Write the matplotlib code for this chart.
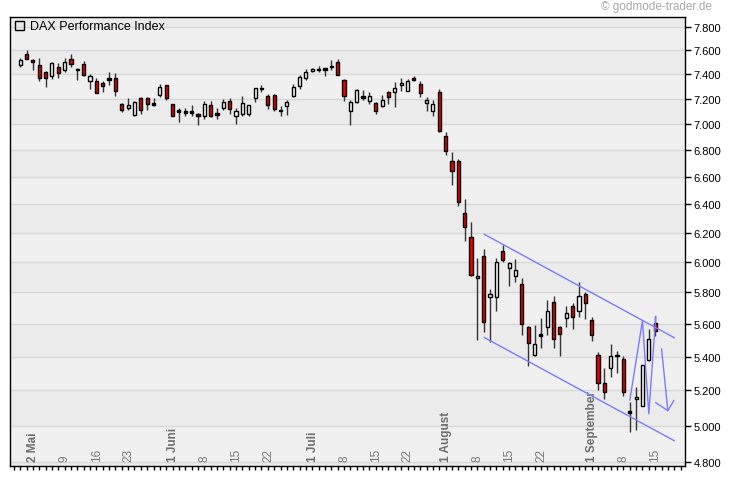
import numpy as np
import matplotlib
matplotlib.use('Agg')
import matplotlib.pyplot as plt
from matplotlib.ticker import FixedLocator, FuncFormatter, NullLocator
import matplotlib.transforms as mtrans

plt.rcParams['font.family'] = ['Liberation Sans', 'DejaVu Sans']

# ---- data: DAX daily candles, 29 Apr 2011 .. 16 Sep 2011 (index = trading day) ----
opens = [7472, 7567, 7517, 7472, 7417, 7386, 7458, 7436, 7522, 7440,
         7480, 7345, 7343, 7327, 7357, 7367, 7154, 7126, 7072, 7204,
         7202, 7157, 7230, 7308, 7154, 7104, 7094, 7098, 7075, 7059,
         7149, 7077, 7123, 7180, 7059, 7077, 7075, 7202, 7279, 7218,
         7226, 7106, 7138, 7223, 7304, 7370, 7422, 7437, 7440, 7464,
         7500, 7353, 7104, 7170, 7212, 7183, 7162, 7141, 7252, 7255,
         7306, 7263, 7367, 7316, 7162, 7104, 7250, 6904, 6714, 6714,
         6336, 6169, 5893, 6039, 5770, 5773, 6075, 5960, 5910, 5855,
         5582, 5412, 5528, 5580, 5738, 5580, 5635, 5712, 5684, 5790,
         5625, 5409, 5246, 5330, 5405, 5388, 5077, 5149, 5111, 5382,
         5604]
highs = [7533, 7600, 7528, 7533, 7422, 7497, 7492, 7533, 7564, 7447,
         7505, 7400, 7367, 7345, 7417, 7406, 7164, 7206, 7178, 7212,
         7210, 7204, 7316, 7308, 7158, 7123, 7127, 7147, 7088, 7180,
         7180, 7123, 7198, 7204, 7123, 7220, 7151, 7287, 7308, 7237,
         7237, 7143, 7188, 7316, 7394, 7439, 7449, 7470, 7453, 7517,
         7522, 7357, 7188, 7273, 7268, 7252, 7170, 7231, 7263, 7330,
         7365, 7362, 7384, 7343, 7214, 7188, 7276, 6937, 6784, 6731,
         6438, 6273, 6028, 6089, 5822, 6026, 6112, 6003, 6021, 5893,
         5590, 5594, 5636, 5749, 5780, 5586, 5712, 5733, 5865, 5801,
         5642, 5425, 5330, 5477, 5436, 5402, 5134, 5222, 5352, 5568,
         5652]
lows = [7456, 7522, 7436, 7345, 7290, 7357, 7370, 7417, 7461, 7350,
        7381, 7280, 7244, 7255, 7310, 7222, 7089, 7111, 7064, 7078,
        7111, 7141, 7214, 7188, 7060, 7017, 7058, 7058, 6990, 7038,
        7051, 7038, 7110, 7077, 7002, 7064, 7064, 7175, 7255, 7120,
        7100, 7064, 7072, 7210, 7280, 7351, 7414, 7414, 7386, 7436,
        7389, 7183, 6993, 7162, 7190, 7157, 7077, 7133, 7157, 7136,
        7263, 7263, 7340, 7210, 7104, 7058, 6940, 6760, 6537, 6390,
        6144, 5910, 5498, 5550, 5488, 5679, 5999, 5844, 5866, 5533,
        5343, 5406, 5452, 5530, 5451, 5402, 5580, 5571, 5643, 5631,
        5493, 5205, 5150, 5280, 5300, 5168, 4964, 4976, 5108, 5372,
        5524]
closes = [7517, 7522, 7497, 7370, 7370, 7489, 7406, 7497, 7486, 7433,
          7392, 7381, 7247, 7298, 7355, 7263, 7111, 7147, 7172, 7111,
          7159, 7160, 7292, 7206, 7064, 7101, 7087, 7090, 7059, 7154,
          7064, 7073, 7170, 7114, 7104, 7162, 7146, 7282, 7281, 7146,
          7114, 7103, 7170, 7290, 7373, 7414, 7441, 7439, 7437, 7462,
          7394, 7223, 7170, 7268, 7208, 7218, 7104, 7186, 7215, 7284,
          7327, 7340, 7348, 7247, 7186, 7157, 6947, 6793, 6640, 6414,
          6238, 5917, 5910, 5610, 5793, 5999, 6016, 5994, 5948, 5602,
          5483, 5477, 5532, 5680, 5507, 5535, 5667, 5642, 5779, 5733,
          5534, 5246, 5193, 5405, 5410, 5190, 5073, 5164, 5348, 5506,
          5554]

# x-axis labels (trading-day index, text)
month_idx = [1, 23, 45, 66, 89]
month_labels = ['2 Mai', '1 Juni', '1 Juli', '1 August', '1 September']
day_idx = [6, 11, 16, 28, 33, 38, 50, 55, 60, 71, 76, 81, 94, 99]
day_labels = ['9', '16', '23', '8', '15', '22', '8', '15', '22', '8', '15', '22', '8', '15']

y_ticks = [4800, 5000, 5200, 5400, 5600, 5800, 6000, 6200, 6400, 6600, 6800,
           7000, 7200, 7400, 7600, 7800]

# drawn trend channel and projection lines (index, price)
upper_x = [73.0, 103.1]
upper_y = [6191, 5513]
lower_x = [73.0, 103.1]
lower_y = [5518, 4915]
zig_x = [96.0, 98.0, 99.0, 100.1]
zig_y = [5141, 5621, 5066, 5652]
arrow_x = [101.0, 102.0]
arrow_y = [5450, 5084]
head_x = [100.0, 102.0, 103.0]
head_y = [5132, 5084, 5145]

# ---- figure ----
W, H = 730, 481
fig = plt.figure(figsize=(W / 100, H / 100), dpi=100)
fig.patch.set_facecolor('white')
L, R, T, B = 10, 685, 18, 467
ax = fig.add_axes([L / W, (H - B) / H, (R - L) / W, (B - T) / H])
ax.set_facecolor('#EEEEEE')

ax.set_yscale('log')
ax.set_ylim(4780, 7885)
ax.set_xlim(-1.6, 104.7)

# alternating background bands + grid
bands = [4700] + y_ticks + [8000]
for i in range(len(bands) - 1):
    ax.axhspan(bands[i], bands[i + 1], color='#F0F0F0' if i % 2 else '#EBEBEB', lw=0, zorder=0)
for v in y_ticks:
    ax.axhline(v, color='#D8D8D8', lw=1, zorder=0.5)

# candles
n = len(opens)
xs = np.arange(n)
ax.vlines(xs, lows, highs, color='#333333', lw=1, zorder=2)
for i in range(n):
    o, c = opens[i], closes[i]
    bottom = min(o, c)
    h = abs(c - o)
    if h < 0.0012 * o:
        h = 0.0018 * o
        bottom = (o + c) / 2 - h / 2
        fc = 'black'
    else:
        fc = '#EE0000' if c < o else 'white'
    ax.bar(i, h, bottom=bottom, width=0.5, color=fc, edgecolor='black', lw=1, zorder=3)

# blue annotation lines
blue = '#7B7BFF'
for lx, ly in [(upper_x, upper_y), (lower_x, lower_y), (zig_x, zig_y), (arrow_x, arrow_y), (head_x, head_y)]:
    ax.plot(lx, ly, color=blue, lw=1, zorder=4, solid_capstyle='butt')

# axes styling
for s in ax.spines.values():
    s.set_color('black')
    s.set_linewidth(1)
ax.yaxis.tick_right()
ax.yaxis.set_major_locator(FixedLocator(y_ticks))
ax.yaxis.set_minor_locator(NullLocator())
ax.yaxis.set_major_formatter(FuncFormatter(lambda v, p: f'{int(round(v)):,}'.replace(',', '.')))
ax.tick_params(axis='y', which='major', direction='out', length=4, width=1, pad=2,
               labelsize=8, labelcolor='black')
ax.xaxis.set_major_locator(FixedLocator(np.arange(-1, 105)))
ax.xaxis.set_minor_locator(NullLocator())
ax.tick_params(axis='x', which='major', direction='out', length=3, width=1, labelbottom=False)

# x labels inside the plot
tr = mtrans.blended_transform_factory(ax.transData, ax.transAxes)
off = mtrans.offset_copy(tr, fig=fig, x=0.5, y=0, units='points')
for i, t in zip(month_idx, month_labels):
    ax.text(i, 0.012, t, rotation=90, ha='left', va='bottom', fontsize=8.5, fontweight='bold',
            color='#6E6E6E', transform=off, zorder=1)
for i, t in zip(day_idx, day_labels):
    ax.text(i, 0.012, t, rotation=90, ha='left', va='bottom', fontsize=8.5,
            color='#777777', transform=off, zorder=1)

# legend
fig.patches.append(plt.Rectangle((15 / W, 1 - 31 / H), 9 / W, 9 / H, transform=fig.transFigure,
                                 fill=False, edgecolor='black', lw=1))
fig.text(30 / W, 1 - 27 / H, 'DAX Performance Index', fontsize=9, va='center', ha='left', color='black')

# watermark
fig.text(712 / W, 1 - 7 / H, '\u00a9 godmode-trader.de', fontsize=8.5, va='center', ha='right', color='#A8A8A8')

fig.savefig('out.png', dpi=100, facecolor='white')
